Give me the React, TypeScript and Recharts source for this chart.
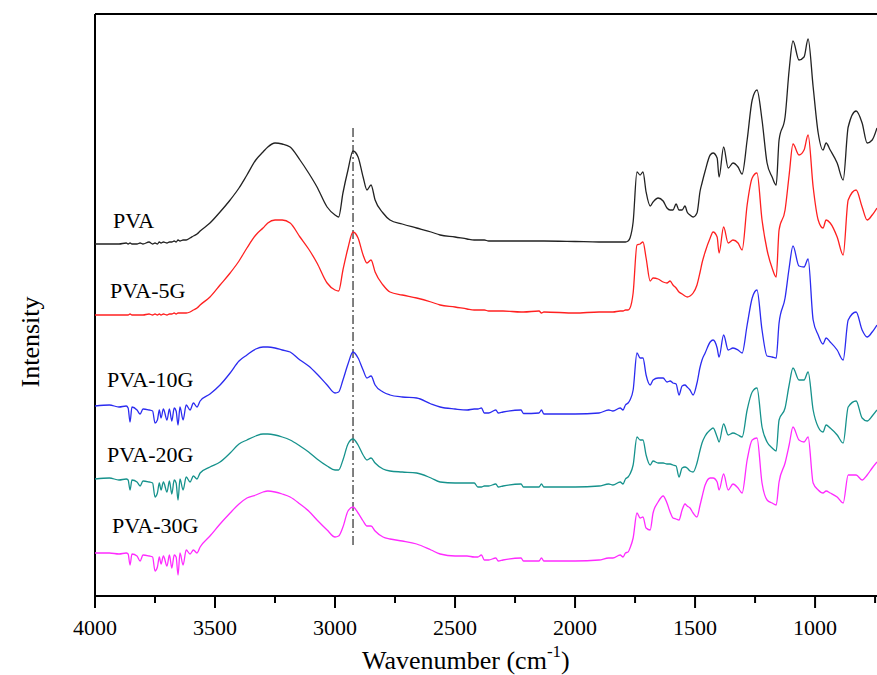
import { Line, LineChart, ReferenceLine, XAxis, YAxis } from "recharts";

// FTIR spectra, wavenumber grid shared by all samples (cm-1), intensity in arbitrary units
const wavenumbers = [
  4000, 3940, 3900, 3870, 3862, 3854, 3846, 3825, 3812, 3800,
  3775, 3760, 3750, 3740, 3732, 3725, 3715, 3700, 3690, 3680,
  3670, 3662, 3654, 3646, 3633, 3620, 3604, 3590, 3575, 3562,
  3521, 3479, 3437, 3400, 3367, 3330, 3300, 3280, 3250, 3220,
  3187, 3146, 3110, 3075, 3033, 3000, 2985, 2967, 2946, 2925,
  2904, 2883, 2867, 2850, 2833, 2800, 2771, 2720, 2660, 2600,
  2562, 2500, 2450, 2420, 2405, 2390, 2378, 2360, 2330, 2320,
  2300, 2225, 2215, 2150, 2140, 2130, 2000, 1900, 1860, 1842,
  1812, 1800, 1790, 1779, 1771, 1758, 1742, 1729, 1717, 1704,
  1687, 1675, 1654, 1633, 1617, 1604, 1592, 1579, 1567, 1554,
  1542, 1533, 1521, 1508, 1492, 1479, 1471, 1458, 1437, 1425,
  1408, 1400, 1381, 1362, 1342, 1321, 1304, 1283, 1262, 1242,
  1221, 1200, 1179, 1162, 1150, 1125, 1108, 1092, 1067, 1046,
  1029, 1008, 987, 967, 954, 937, 908, 883, 862, 829,
  804, 783, 762, 742,
];

const pva = [
  35.2, 35.2, 35.2, 35.3, 35.2, 35.3, 35.2, 35.2, 35.3, 35.2,
  35.4, 35.2, 35.3, 35.2, 35.4, 35.3, 35.4, 35.3, 35.4, 35.4,
  35.5, 35.4, 35.6, 35.5, 35.6, 35.6, 35.8, 36.0, 36.2, 36.5,
  37.3, 38.4, 39.6, 40.8, 42.1, 43.6, 44.4, 44.9, 45.3, 45.2,
  44.9, 43.6, 42.3, 40.9, 38.9, 38.1, 37.9, 40.3, 42.6, 44.5,
  43.9, 41.9, 40.6, 41.1, 39.6, 38.3, 37.6, 37.2, 36.8, 36.4,
  36.1, 35.9, 35.7, 35.6, 35.6, 35.6, 35.6, 35.5, 35.5, 35.5,
  35.5, 35.5, 35.5, 35.5, 35.5, 35.5, 35.45, 35.4, 35.4, 35.4,
  35.4, 35.4, 35.4, 35.5, 35.8, 37.4, 42.4, 42.1, 42.4, 40.4,
  39.0, 39.4, 39.8, 39.5, 38.8, 38.6, 38.6, 39.2, 38.6, 38.6,
  39.0, 38.4, 38.1, 37.9, 38.3, 40.5, 41.3, 42.5, 44.1, 44.3,
  43.8, 41.9, 44.9, 42.8, 43.3, 42.9, 42.2, 45.6, 49.6, 50.6,
  47.6, 43.3, 41.9, 41.1, 45.6, 47.9, 52.6, 55.5, 53.6, 53.9,
  55.7, 50.9, 46.3, 44.6, 45.3, 44.6, 43.3, 41.6, 46.9, 48.5,
  47.3, 45.3, 45.6, 46.8,
];

const pva5g = [
  28.1, 28.1, 28.1, 28.1, 28.1, 28.2, 28.1, 28.1, 28.1, 28.1,
  28.2, 28.1, 28.2, 28.1, 28.2, 28.1, 28.2, 28.1, 28.2, 28.2,
  28.3, 28.2, 28.3, 28.3, 28.3, 28.3, 28.4, 28.6, 28.8, 29.1,
  29.9, 31.1, 32.3, 33.5, 34.8, 36.1, 36.8, 37.3, 37.6, 37.6,
  37.3, 35.9, 34.7, 33.3, 31.3, 30.6, 30.5, 32.6, 34.8, 36.4,
  35.8, 34.1, 33.3, 33.6, 32.4, 31.1, 30.4, 30.1, 29.8, 29.4,
  29.1, 28.9, 28.7, 28.6, 28.6, 28.6, 28.6, 28.5, 28.5, 28.5,
  28.5, 28.4, 28.4, 28.5, 28.3, 28.4, 28.3, 28.4, 28.4, 28.4,
  28.5, 28.5, 28.6, 28.6, 28.8, 30.3, 35.1, 35.2, 35.4, 33.8,
  31.5, 31.8, 31.7, 31.4, 31.3, 31.5, 31.1, 30.8, 30.4, 30.2,
  30.0, 29.9, 30.0, 30.3, 31.1, 32.4, 33.3, 34.4, 35.8, 36.4,
  35.9, 34.3, 36.9, 35.3, 35.6, 35.3, 34.6, 39.1, 41.8, 42.3,
  37.6, 34.6, 32.8, 31.9, 36.6, 38.6, 42.1, 45.2, 44.1, 44.6,
  46.1, 40.9, 37.6, 36.8, 37.6, 37.3, 35.9, 34.1, 39.6, 40.6,
  38.9, 37.6, 38.1, 38.8,
];

const pva10g = [
  19.0, 19.1, 18.9, 19.0, 18.8, 17.4, 18.9, 18.6, 18.2, 18.7,
  18.6, 18.5, 17.3, 17.6, 18.6, 17.8, 18.7, 17.6, 18.7, 17.5,
  18.8, 18.5, 17.1, 18.9, 17.6, 19.1, 18.6, 19.3, 18.9, 19.5,
  20.2, 21.1, 22.3, 23.5, 24.1, 24.7, 24.9, 24.9, 24.8, 24.6,
  24.4, 23.6, 23.0, 22.2, 21.1, 20.3, 20.4, 21.6, 23.2, 24.4,
  23.8, 22.6, 21.8, 22.0, 21.1, 20.4, 20.1, 19.9, 19.8, 19.2,
  18.9, 18.7, 18.6, 18.7, 18.7, 18.8, 18.3, 18.3, 18.6, 18.3,
  18.4, 18.6, 18.25, 18.3, 18.6, 18.2, 18.2, 18.3, 18.6, 18.5,
  18.8, 18.6, 19.1, 19.3, 19.6, 20.6, 24.3, 23.8, 23.8, 22.1,
  21.1, 21.6, 21.8, 21.8, 21.4, 21.5, 21.3, 21.2, 20.1, 21.0,
  21.1, 20.9, 20.6, 20.1, 21.3, 22.9, 23.6, 24.3, 25.4, 25.6,
  24.8, 23.9, 26.1, 24.6, 24.8, 24.6, 24.3, 27.1, 29.8, 30.6,
  26.6, 24.0, 23.9, 23.8, 27.3, 29.8, 32.8, 35.0, 33.0, 32.9,
  33.7, 27.6, 26.1, 25.2, 25.8, 25.4, 24.6, 23.6, 27.6, 28.4,
  26.6, 25.9, 26.4, 27.1,
];

const pva20g = [
  11.7, 11.8, 11.6, 11.7, 11.6, 10.6, 11.6, 11.4, 11.0, 11.5,
  11.4, 11.3, 9.9, 10.3, 11.3, 10.6, 11.4, 10.4, 11.5, 10.2,
  11.6, 11.3, 9.6, 11.7, 10.6, 11.9, 11.4, 12.0, 11.7, 12.3,
  12.9, 13.4, 14.3, 15.2, 15.6, 16.0, 16.2, 16.2, 16.1, 15.9,
  15.6, 15.0, 14.4, 13.7, 13.0, 12.6, 12.6, 13.6, 15.2, 15.7,
  15.1, 14.1, 13.6, 13.8, 13.3, 12.7, 12.5, 12.4, 12.3, 11.8,
  11.4, 11.3, 11.3, 11.3, 10.9, 10.9, 11.0, 11.0, 11.2, 10.9,
  11.0, 11.2, 10.9, 10.9, 11.2, 10.9, 10.9, 11.0, 11.2, 11.1,
  11.4, 11.2, 11.7, 11.9, 12.2, 13.1, 15.9, 15.6, 15.6, 14.1,
  13.1, 13.5, 13.3, 13.3, 13.2, 13.2, 13.1, 13.0, 11.9, 12.8,
  12.9, 12.8, 12.5, 12.4, 13.3, 14.6, 15.3, 16.0, 16.6, 16.8,
  15.9, 15.4, 17.2, 16.1, 16.3, 16.1, 15.9, 18.6, 20.4, 20.8,
  16.9, 15.4, 14.8, 14.5, 17.6, 18.8, 21.1, 22.8, 21.6, 21.6,
  22.4, 18.6, 16.9, 16.4, 17.1, 16.8, 16.1, 15.3, 18.9, 19.5,
  17.8, 17.5, 18.0, 18.6,
];

const pva30g = [
  4.3, 4.3, 4.2, 4.3, 4.2, 3.1, 4.2, 4.0, 3.5, 4.1,
  4.0, 3.9, 2.5, 2.9, 3.9, 3.2, 4.0, 3.0, 4.1, 2.8,
  4.1, 3.9, 2.1, 4.3, 3.1, 4.6, 4.2, 4.6, 4.3, 4.9,
  6.0, 7.2, 8.3, 9.2, 9.8, 10.1, 10.4, 10.5, 10.4, 10.2,
  9.9, 9.2, 8.5, 7.6, 6.6, 5.9, 6.0, 6.9, 8.5, 8.9,
  8.3, 7.5, 7.0, 7.0, 6.5, 5.9, 5.7, 5.5, 5.2, 4.6,
  4.2, 4.0, 4.0, 3.9, 3.9, 4.1, 3.6, 3.6, 3.8, 3.5,
  3.6, 3.8, 3.5, 3.5, 3.8, 3.5, 3.5, 3.6, 3.8, 3.8,
  4.1, 3.9, 4.3, 4.4, 4.8, 5.8, 8.3, 7.8, 7.9, 6.8,
  6.6, 8.3, 9.4, 10.0, 9.3, 8.4, 7.8, 7.7, 7.6, 8.6,
  9.2, 9.0, 8.8, 8.3, 7.9, 9.1, 9.9, 11.1, 11.8, 11.8,
  11.4, 10.6, 12.2, 10.6, 11.2, 10.8, 10.3, 13.6, 15.6, 15.8,
  11.3, 9.6, 9.3, 9.1, 11.4, 13.3, 15.1, 16.9, 15.6, 15.4,
  15.9, 11.3, 10.6, 10.3, 10.5, 10.3, 9.9, 9.3, 12.1, 12.1,
  11.6, 12.1, 12.8, 13.4,
];

const xTicks = [4000, 3750, 3500, 3250, 3000, 2750, 2500, 2250, 2000, 1750, 1500, 1250, 1000, 750];
const xDomain = [742, 4000];
const yDomain = [0, 58.2];
const markerWavenumber = 2925;
const markerRange = [5.1, 46.8];

const series = [
  { key: "pva", name: "PVA", color: "#222222", labelX: 113, labelY: 228 },
  { key: "pva5g", name: "PVA-5G", color: "#ff2020", labelX: 110, labelY: 298 },
  { key: "pva10g", name: "PVA-10G", color: "#2b2bf0", labelX: 107, labelY: 387 },
  { key: "pva20g", name: "PVA-20G", color: "#16928c", labelX: 107, labelY: 462 },
  { key: "pva30g", name: "PVA-30G", color: "#ff2bff", labelX: 112, labelY: 533 },
];

const data = wavenumbers.map((w, i) => ({
  w,
  pva: pva[i],
  pva5g: pva5g[i],
  pva10g: pva10g[i],
  pva20g: pva20g[i],
  pva30g: pva30g[i],
}));

const FONT = '"Liberation Serif", "Times New Roman", serif';

function WaveTick(props: any) {
  const { x, y, payload } = props;
  const major = payload.value % 500 === 0;
  return (
    <g>
      <line x1={x} x2={x} y1={y} y2={y + (major ? 12 : 7)} stroke="#000" strokeWidth={2} />
      {major && (
        <text x={x} y={y + 39} textAnchor="middle" fontSize={22} fontFamily={FONT} fill="#000">
          {payload.value}
        </text>
      )}
    </g>
  );
}

export default function App() {
  return (
    <div style={{ position: "relative", width: 877, height: 675, background: "#fff" }}>
      <style>{"body{margin:0;}"}</style>
      <LineChart width={877} height={675} data={data} margin={{ top: 14, right: 0, left: 95, bottom: 0 }}>
        <XAxis
          dataKey="w"
          type="number"
          reversed
          domain={xDomain}
          allowDataOverflow
          ticks={xTicks}
          interval={0}
          height={79}
          tickSize={0}
          tickMargin={0}
          tickLine={false}
          axisLine={{ stroke: "#000", strokeWidth: 2 }}
          tick={<WaveTick />}
        />
        <YAxis type="number" domain={yDomain} hide />
        <ReferenceLine y={yDomain[1]} stroke="#000" strokeWidth={2} />
        <ReferenceLine x={xDomain[1]} stroke="#000" strokeWidth={2} />
        <ReferenceLine
          segment={[
            { x: markerWavenumber, y: markerRange[0] },
            { x: markerWavenumber, y: markerRange[1] },
          ]}
          stroke="#000"
          strokeWidth={1}
          strokeDasharray="9 3 2 3"
        />
        {series.map((s) => (
          <Line
            key={s.key}
            dataKey={s.key}
            type="monotone"
            stroke={s.color}
            strokeWidth={1.3}
            dot={false}
            isAnimationActive={false}
          />
        ))}
      </LineChart>
      <svg
        width={877}
        height={675}
        style={{ position: "absolute", left: 0, top: 0, pointerEvents: "none" }}
      >
        {series.map((s) => (
          <text key={s.key} x={s.labelX} y={s.labelY} fontSize={22} fontFamily={FONT} fill="#000">
            {s.name}
          </text>
        ))}
        <text x={362} y={669} fontSize={26} fontFamily={FONT} fill="#000">
          Wavenumber (cm
          <tspan fontSize={17} dy={-12}>-1</tspan>
          <tspan dy={12}>)</tspan>
        </text>
        <text
          x={0}
          y={0}
          fontSize={26}
          fontFamily={FONT}
          fill="#000"
          textAnchor="middle"
          transform="translate(39 342) rotate(-90)"
        >
          Intensity
        </text>
      </svg>
    </div>
  );
}
